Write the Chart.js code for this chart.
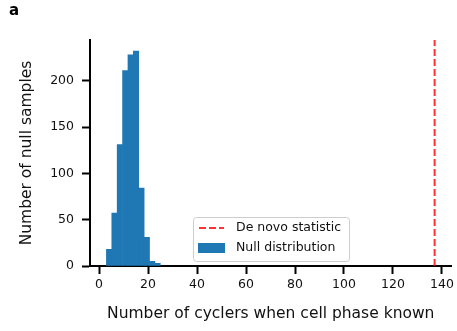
<!DOCTYPE html>
<html>
<head>
<meta charset="utf-8">
<script src="https://cdn.jsdelivr.net/npm/chart.js@4/dist/chart.umd.min.js"></script>
<style>
  html, body { margin: 0; padding: 0; background: #fff; }
  #wrap { position: relative; width: 457px; height: 331px; }
  #panel { position: absolute; left: 9px; top: 1px; font: bold 15px "DejaVu Sans", sans-serif; color: #000; }
</style>
</head>
<body>
<div id="wrap">
  <canvas id="nullHist" width="457" height="331"></canvas>
  <div id="panel">a</div>
</div>
<script>
// histogram of the null distribution: 10 bins between 3 and 25
var binEdges = [3, 5.2, 7.4, 9.6, 11.8, 14, 16.2, 18.4, 20.6, 22.8, 25];
var binCounts = [18, 57, 131, 211, 228, 232, 84, 31, 5, 3];
var deNovoStatistic = 137;
var xTicks = [0, 20, 40, 60, 80, 100, 120, 140];
var yTicks = [0, 50, 100, 150, 200];

var font = '"DejaVu Sans", sans-serif';
var dash = [7, 3];

var histData = binCounts.map(function(c, i) {
    return { x: (binEdges[i] + binEdges[i + 1]) / 2, y: c };
});

// legend sits inside the plot, lower centre
var innerLegend = {
    id: 'innerLegend',
    afterDraw: function(chart) {
        var ctx = chart.ctx;
        var a = chart.chartArea;
        var x = a.left + 103, y = a.top + 177, w = 156, h = 44;
        ctx.save();
        ctx.fillStyle = 'rgba(255,255,255,0.8)';
        ctx.strokeStyle = '#cccccc';
        ctx.lineWidth = 1;
        ctx.beginPath();
        ctx.roundRect(x + 0.5, y + 0.5, w, h, 3);
        ctx.fill();
        ctx.stroke();

        ctx.strokeStyle = 'rgba(255,0,0,0.8)';
        ctx.lineWidth = 2;
        ctx.setLineDash(dash);
        ctx.beginPath();
        ctx.moveTo(x + 6, y + 11);
        ctx.lineTo(x + 31, y + 11);
        ctx.stroke();
        ctx.setLineDash([]);

        ctx.fillStyle = '#1f77b4';
        ctx.fillRect(x + 5, y + 26, 27, 10);

        ctx.fillStyle = '#111';
        ctx.font = '12.5px ' + font;
        ctx.textBaseline = 'middle';
        ctx.fillText('De novo statistic', x + 43, y + 11);
        ctx.fillText('Null distribution', x + 43, y + 31);
        ctx.restore();
    }
};

var ctx = document.getElementById('nullHist').getContext('2d');
var chart = new Chart(ctx, {
    type: 'bar',
    data: {
        datasets: [
        {
            type: 'line',
            label: 'De novo statistic',
            data: [{ x: deNovoStatistic, y: 0 }, { x: deNovoStatistic, y: 244 }],
            borderColor: 'rgba(255,0,0,0.8)',
            borderWidth: 2,
            borderDash: dash,
            pointRadius: 0,
            fill: false
        },
        {
            label: 'Null distribution',
            data: histData,
            backgroundColor: '#1f77b4',
            borderWidth: 0,
            barPercentage: 1,
            categoryPercentage: 1
        }
        ]
    },
    options: {
        responsive: false,
        animation: false,
        layout: { padding: { left: 0, right: 4, top: 40, bottom: 0 } },
        plugins: {
            legend: { display: false },
            tooltip: { enabled: false }
        },
        scales: {
            x: {
                type: 'linear',
                offset: false,
                min: -3.7,
                max: 143.9,
                afterFit: function(s) { s.height = 65; },
                afterBuildTicks: function(s) { s.ticks = xTicks.map(function(v) { return { value: v }; }); },
                ticks: { color: '#111', font: { family: font, size: 12.5 }, padding: 3, maxRotation: 0 },
                grid: { offset: false, drawOnChartArea: false, tickLength: 8, tickColor: '#000', tickWidth: 2 },
                border: { color: '#000', width: 2 },
                title: { display: true, text: 'Number of cyclers when cell phase known', color: '#111',
                         font: { family: font, size: 15.5 }, padding: { top: 4, bottom: 8 } }
            },
            y: {
                min: 0,
                max: 244,
                afterFit: function(s) { s.width = 90; },
                afterBuildTicks: function(s) { s.ticks = yTicks.map(function(v) { return { value: v }; }); },
                ticks: { color: '#111', font: { family: font, size: 12.5 }, padding: 8 },
                grid: { drawOnChartArea: false, tickLength: 8, tickColor: '#000', tickWidth: 2 },
                border: { color: '#000', width: 2 },
                title: { display: true, text: 'Number of null samples', color: '#111',
                         font: { family: font, size: 15.5 }, padding: { top: 18, bottom: 4 } }
            }
        }
    },
    plugins: [innerLegend]
});
</script>
</body>
</html>
